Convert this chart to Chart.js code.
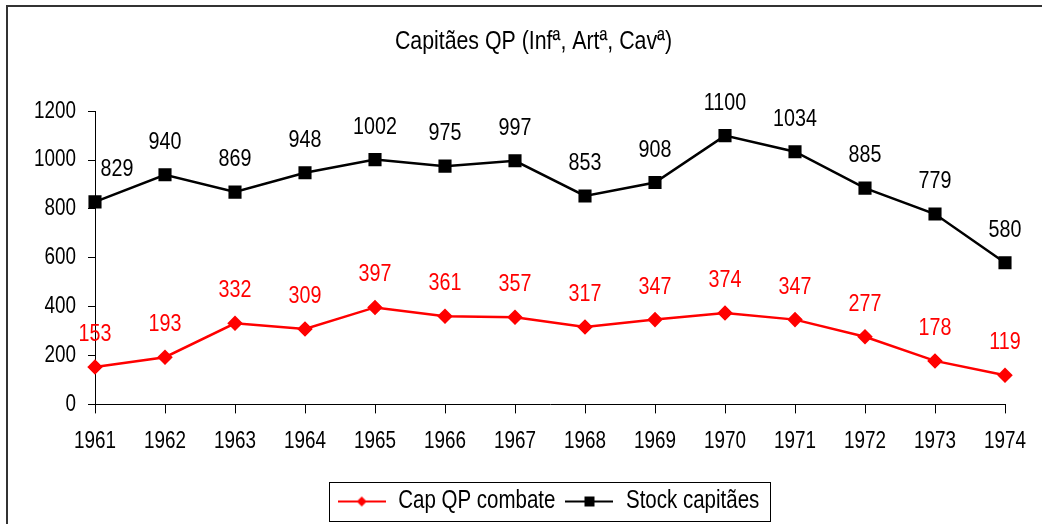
<!DOCTYPE html>
<html>
<head>
<meta charset="utf-8">
<script src="https://cdn.jsdelivr.net/npm/chart.js@4/dist/chart.umd.min.js"></script>
<style>
  html, body { margin: 0; padding: 0; background: #fff; }
  #wrap { position: relative; width: 1042px; height: 524px; overflow: hidden; }
  #frame { position: absolute; left: 6px; top: 5px; width: 1100px; height: 600px;
           border-top: 2px solid #333; border-left: 2px solid #333; }
  canvas { position: absolute; left: 0; top: 0; }
</style>
</head>
<body>
<div id="wrap">
  <div id="frame"></div>
  <canvas id="chart" width="1042" height="524"></canvas>
</div>
<script>
const years = ["1961", "1962", "1963", "1964", "1965", "1966", "1967", "1968", "1969", "1970", "1971", "1972", "1973", "1974"];
const capCombate = [153, 193, 332, 309, 397, 361, 357, 317, 347, 374, 347, 277, 178, 119];
const stockCapitaes = [829, 940, 869, 948, 1002, 975, 997, 853, 908, 1100, 1034, 885, 779, 580];
const seriesNames = ["Cap QP combate", "Stock capitães"];
const titleText = "Capitães QP (Infª, Artª, Cavª)";

const FONT = "'Liberation Sans', Arial, sans-serif";
const NARROW = 0.82; // squeeze text to look like Arial Narrow

const canvas = document.getElementById("chart");
const c2d = canvas.getContext("2d");

// no narrow font installed, so compress all text drawn on this canvas
const origFill = c2d.fillText.bind(c2d);
const origMeasure = c2d.measureText.bind(c2d);
c2d.fillText = function (text, x, y, maxWidth) {
  this.save();
  this.translate(x, y);
  this.scale(NARROW, 1);
  origFill(text, 0, 0);
  this.restore();
};
c2d.measureText = function (text) {
  const m = origMeasure(text);
  return {
    width: m.width * NARROW,
    actualBoundingBoxAscent: m.actualBoundingBoxAscent,
    actualBoundingBoxDescent: m.actualBoundingBoxDescent,
    actualBoundingBoxLeft: m.actualBoundingBoxLeft * NARROW,
    actualBoundingBoxRight: m.actualBoundingBoxRight * NARROW
  };
};

// small canvas used as legend symbol: a line with the marker in the middle
function legendSymbol(color, shape) {
  const c = document.createElement("canvas");
  c.width = 48; c.height = 14;
  const g = c.getContext("2d");
  g.strokeStyle = color;
  g.lineWidth = 2;
  g.beginPath(); g.moveTo(0, 7); g.lineTo(48, 7); g.stroke();
  g.fillStyle = color;
  if (shape === "diamond") {
    g.beginPath(); g.moveTo(24, 2); g.lineTo(29, 7); g.lineTo(24, 12); g.lineTo(19, 7); g.closePath(); g.fill();
  } else {
    g.fillRect(19, 2, 10, 10);
  }
  return c;
}

// draws value labels above the points
const valueLabels = {
  id: "valueLabels",
  afterDatasetsDraw(chart) {
    const ctx = chart.ctx;
    ctx.save();
    ctx.font = "24px " + FONT;
    ctx.textAlign = "center";
    ctx.textBaseline = "alphabetic";
    chart.data.datasets.forEach((ds, i) => {
      const meta = chart.getDatasetMeta(i);
      ctx.fillStyle = ds.borderColor;
      meta.data.forEach((pt, j) => {
        let x = pt.x;
        if (i === 1 && j === 0) x += 22; // first black label sits right of the axis
        ctx.fillText(String(ds.data[j]), x, pt.y - 26);
      });
    });
    ctx.restore();
  }
};

// title and legend are centred on the whole frame, not on the plot
const shiftBlocks = {
  id: "shiftBlocks",
  afterLayout(chart) {
    if (chart.titleBlock) { chart.titleBlock.left += 31; chart.titleBlock.right += 31; }
    if (chart.legend) { chart.legend.left += 46; chart.legend.right += 46; }
  }
};

// box around the legend
const legendFrame = {
  id: "legendFrame",
  afterDraw(chart) {
    const l = chart.legend;
    if (!l || !l.legendHitBoxes || !l.legendHitBoxes.length) return;
    const boxes = l.legendHitBoxes;
    const left = Math.min(...boxes.map(b => b.left)) - 9;
    const right = Math.max(...boxes.map(b => b.left + b.width)) + 10;
    const top = Math.min(...boxes.map(b => b.top)) - 7;
    const bottom = Math.max(...boxes.map(b => b.top + b.height)) + 7;
    const ctx = chart.ctx;
    ctx.save();
    ctx.strokeStyle = "#000";
    ctx.lineWidth = 1;
    ctx.strokeRect(Math.round(left) + 0.5, Math.round(top) + 0.5, Math.round(right - left), Math.round(bottom - top));
    ctx.restore();
  }
};

new Chart(canvas, {
  type: "line",
  data: {
    labels: years,
    datasets: [
      {
        label: seriesNames[0],
        data: capCombate,
        borderColor: "#ff0000",
        backgroundColor: "#ff0000",
        borderWidth: 2.5,
        pointStyle: "rectRot",
        pointRadius: 6,
        pointHoverRadius: 6,
        tension: 0
      },
      {
        label: seriesNames[1],
        data: stockCapitaes,
        borderColor: "#000000",
        backgroundColor: "#000000",
        borderWidth: 2.5,
        pointStyle: "rect",
        pointRadius: 7.5,
        pointHoverRadius: 7.5,
        tension: 0
      }
    ]
  },
  options: {
    responsive: false,
    animation: false,
    layout: { padding: { left: 0, right: 37, top: 0, bottom: 0 } },
    plugins: {
      title: {
        display: true,
        text: titleText,
        color: "#000",
        font: { family: FONT, size: 26, weight: "normal" },
        padding: { top: 26, bottom: 54 }
      },
      legend: {
        position: "bottom",
        labels: {
          color: "#000",
          font: { family: FONT, size: 25 },
          usePointStyle: true,
          pointStyleWidth: 48,
          padding: 10,
          generateLabels(chart) {
            return chart.data.datasets.map((ds, i) => ({
              text: ds.label,
              fillStyle: ds.borderColor,
              strokeStyle: ds.borderColor,
              fontColor: "#000",
              lineWidth: 0,
              pointStyle: legendSymbol(ds.borderColor, i === 0 ? "diamond" : "square"),
              datasetIndex: i,
              hidden: false
            }));
          }
        }
      },
      tooltip: { enabled: false }
    },
    scales: {
      x: {
        offset: false,
        grid: { display: true, drawOnChartArea: false, drawTicks: true, tickLength: 9, color: "#000" },
        border: { display: true, color: "#000", width: 1 },
        ticks: { color: "#000", font: { family: FONT, size: 23 }, padding: 14, maxRotation: 0, autoSkip: false },
        afterFit(scale) { scale.height += 10; }
      },
      y: {
        min: 0,
        max: 1200,
        ticks: {
          stepSize: 200,
          color: "#000",
          font: { family: FONT, size: 23 },
          padding: 12,
          callback: v => String(v)
        },
        grid: { display: true, drawOnChartArea: false, drawTicks: true, tickLength: 7, color: "#000" },
        border: { display: true, color: "#000", width: 1 },
        afterFit(scale) { scale.width = 95; }
      }
    }
  },
  plugins: [valueLabels, shiftBlocks, legendFrame]
});
</script>
</body>
</html>
